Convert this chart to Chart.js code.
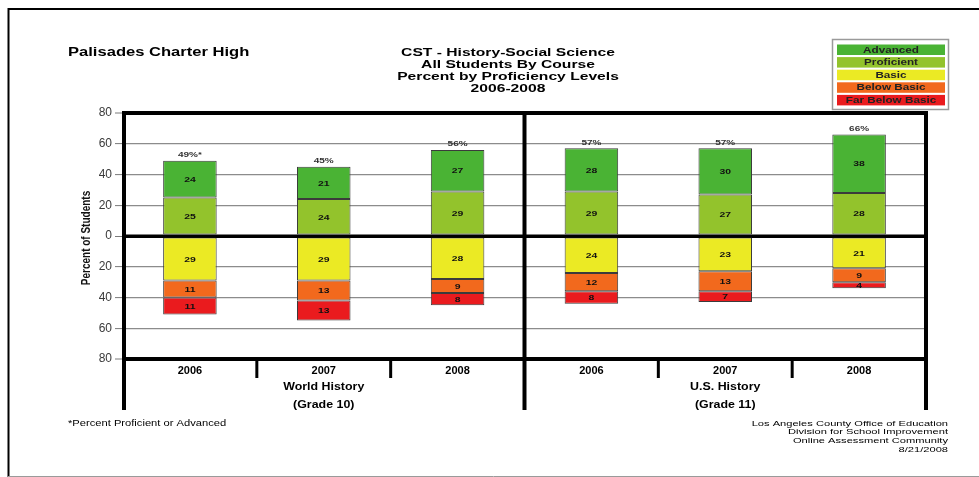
<!DOCTYPE html>
<html>
<head>
<meta charset="utf-8">
<script src="https://cdn.jsdelivr.net/npm/chart.js@4.4.1/dist/chart.umd.min.js"></script>
<style>
  html, body { margin: 0; padding: 0; background: #fff; }
  #wrap { width: 979px; height: 477px; position: relative; }
  canvas { display: block; }
</style>
</head>
<body>
<div id="wrap"><canvas id="chart" width="979" height="477"></canvas></div>
<script>
// CST History-Social Science, percent of students per proficiency level
const years = ['2006', '2007', '2008', '2006', '2007', '2008'];
const courses = ['World History', 'U.S. History'];
const grades = ['(Grade 10)', '(Grade 11)'];
const advanced = [24, 21, 27, 28, 30, 38];
const proficient = [25, 24, 29, 29, 27, 28];
const basic = [29, 29, 28, 24, 23, 21];
const belowBasic = [11, 13, 9, 12, 13, 9];
const farBelowBasic = [11, 13, 8, 8, 7, 4];
const totalSuffix = ['%*', '%', '%', '%', '%', '%'];
const yTickValues = [-80, -60, -40, -20, 0, 20, 40, 60, 80];

const titleLines = ['CST - History-Social Science', 'All Students By Course', 'Percent by Proficiency Levels', '2006-2008'];
const schoolName = 'Palisades Charter High';
const footnote = '*Percent Proficient or Advanced';
const sourceLines = ['Los Angeles County Office of Education', 'Division for School Improvement', 'Online Assessment Community', '8/21/2008'];
const legendOrder = ['Advanced', 'Proficient', 'Basic', 'Below Basic', 'Far Below Basic'];

const COLORS = {
  'Advanced': '#4ab334',
  'Proficient': '#93c32c',
  'Basic': '#ebea24',
  'Below Basic': '#f2691d',
  'Far Below Basic': '#ea1b1e'
};
const FONT = "'Liberation Sans', Arial, Helvetica, sans-serif";
const SX = 1.24; // horizontal stretch used for the drawn text

function drawText(ctx, s, x, y, font, color, align, sx) {
  ctx.save();
  ctx.font = font;
  ctx.fillStyle = color;
  ctx.textBaseline = 'middle';
  ctx.textAlign = align || 'left';
  ctx.translate(x, y);
  ctx.scale(sx || 1, 1);
  ctx.fillText(s, 0, 0);
  ctx.restore();
}

function seg(label, values, sign) {
  return {
    label: label,
    data: values.map(v => sign * v),
    backgroundColor: COLORS[label],
    borderColor: '#3b3b3b',
    borderWidth: 1,
    borderSkipped: false,
    stack: 'levels',
    barPercentage: 0.4,
    categoryPercentage: 1.0
  };
}

const decorations = {
  id: 'decorations',
  beforeDraw(chart) {
    const ctx = chart.ctx;
    ctx.save();
    ctx.fillStyle = '#fff';
    ctx.fillRect(0, 0, chart.width, chart.height);
    // page frame
    ctx.strokeStyle = '#000';
    ctx.lineWidth = 2;
    ctx.beginPath();
    ctx.moveTo(979, 9); ctx.lineTo(8.5, 9); ctx.lineTo(8.5, 477);
    ctx.stroke();
    ctx.strokeStyle = '#9a9a9a';
    ctx.lineWidth = 1;
    ctx.beginPath();
    ctx.moveTo(8, 476.5); ctx.lineTo(979, 476.5);
    ctx.stroke();
    ctx.restore();
  },
  afterDatasetsDraw(chart) {
    const ctx = chart.ctx;
    const area = chart.chartArea;
    const y = chart.scales.y;

    // zero line sits above the bars
    ctx.save();
    ctx.strokeStyle = '#000';
    ctx.lineWidth = 3;
    ctx.beginPath();
    ctx.moveTo(area.left, y.getPixelForValue(0));
    ctx.lineTo(area.right, y.getPixelForValue(0));
    ctx.stroke();
    ctx.restore();

    // values inside each segment
    chart.data.datasets.forEach((ds, di) => {
      const meta = chart.getDatasetMeta(di);
      meta.data.forEach((bar, i) => {
        const cy = (bar.y + bar.base) / 2;
        drawText(ctx, String(Math.abs(ds.data[i])), bar.x, cy + 0.5, "bold 8px " + FONT, '#111', 'center', 1.3);
      });
    });

    // Proficient + Advanced totals above each bar
    const top = chart.getDatasetMeta(1);
    top.data.forEach((bar, i) => {
      const total = advanced[i] + proficient[i];
      drawText(ctx, total + totalSuffix[i], bar.x, bar.y - 6, "bold 8px " + FONT, '#333', 'center', 1.25);
    });
  },
  afterDraw(chart) {
    const ctx = chart.ctx;
    const area = chart.chartArea;
    const x = chart.scales.x;
    const boundary = i => (x.getPixelForValue(i - 1) + x.getPixelForValue(i)) / 2;

    ctx.save();
    ctx.strokeStyle = '#000';
    // outer and course-dividing verticals
    ctx.lineWidth = 4;
    [area.left + 1, boundary(3), area.right].forEach(px => {
      ctx.beginPath();
      ctx.moveTo(px, area.top - 2);
      ctx.lineTo(px, 410);
      ctx.stroke();
    });
    // year separators below the plot
    ctx.lineWidth = 3;
    [1, 2, 4, 5].forEach(i => {
      const px = boundary(i);
      ctx.beginPath();
      ctx.moveTo(px, area.bottom);
      ctx.lineTo(px, 378);
      ctx.stroke();
    });
    ctx.restore();

    // course group labels
    courses.forEach((c, g) => {
      const cx = x.getPixelForValue(g * 3 + 1);
      drawText(ctx, c, cx, 387.5, "bold 10px " + FONT, '#000', 'center', SX);
      drawText(ctx, grades[g], cx, 405, "bold 10px " + FONT, '#000', 'center', SX);
    });

    // y axis title
    ctx.save();
    ctx.translate(86, (area.top + area.bottom) / 2 + 2);
    ctx.rotate(-Math.PI / 2);
    ctx.scale(1, 1.3);
    ctx.font = "bold 10px 'Liberation Sans Narrow', " + FONT;
    ctx.fillStyle = '#111';
    ctx.textAlign = 'center';
    ctx.textBaseline = 'middle';
    ctx.fillText('Percent of Students', 0, 0);
    ctx.restore();

    // headings
    drawText(ctx, schoolName, 68, 53, "bold 12px " + FONT, '#000', 'left', 1.38);
    titleLines.forEach((t, i) => {
      drawText(ctx, t, 508, 53 + i * 11.9, "bold 11.5px " + FONT, '#000', 'center', 1.36);
    });

    // legend box with labels inside coloured bars
    ctx.save();
    ctx.strokeStyle = '#9a9a9a';
    ctx.lineWidth = 1.5;
    ctx.strokeRect(832.5, 39.5, 116, 70);
    legendOrder.forEach((name, i) => {
      const ds = chart.data.datasets.find(d => d.label === name);
      const ty = 44.5 + i * 12.6;
      ctx.fillStyle = ds.backgroundColor;
      ctx.fillRect(837, ty, 108, 10.5);
      drawText(ctx, name, 891, ty + 5.6, "bold 9px " + FONT, '#222', 'center', 1.3);
    });
    ctx.restore();

    // footnotes
    drawText(ctx, footnote, 68, 423.5, "9px " + FONT, '#000', 'left', SX);
    sourceLines.forEach((t, i) => {
      drawText(ctx, t, 948, 423.5 + i * 8.7, "8px " + FONT, '#000', 'right', 1.39);
    });
  }
};

new Chart(document.getElementById('chart'), {
  type: 'bar',
  data: {
    labels: years,
    datasets: [
      seg('Proficient', proficient, 1),
      seg('Advanced', advanced, 1),
      seg('Basic', basic, -1),
      seg('Below Basic', belowBasic, -1),
      seg('Far Below Basic', farBelowBasic, -1)
    ]
  },
  options: {
    responsive: false,
    animation: false,
    devicePixelRatio: 1,
    layout: { padding: { left: 74, top: 113, right: 53, bottom: 68 } },
    plugins: {
      legend: { display: false },
      title: { display: false },
      tooltip: { enabled: false }
    },
    scales: {
      x: {
        stacked: true,
        grid: { display: false, drawTicks: false },
        border: { display: false },
        ticks: {
          color: '#000',
          padding: 5,
          font: { family: FONT, size: 11, weight: 'bold' }
        },
        afterFit(scale) { scale.height = 50; }
      },
      y: {
        stacked: true,
        min: -80,
        max: 80,
        afterBuildTicks(scale) { scale.ticks = yTickValues.map(v => ({ value: v })); },
        ticks: {
          color: '#3a3a3a',
          padding: 3,
          font: { family: FONT, size: 12 },
          callback: v => String(Math.abs(v))
        },
        grid: {
          color: c => (c.tick.value === 0 || Math.abs(c.tick.value) === 80) ? '#000' : '#8c8c8c',
          lineWidth: c => c.tick.value === 0 ? 3 : (Math.abs(c.tick.value) === 80 ? 4 : 1.2),
          tickColor: '#7a7a7a',
          tickLength: 8,
          tickWidth: 1
        },
        border: { display: false },
        afterFit(scale) { scale.width = 49; }
      }
    }
  },
  plugins: [decorations]
});
</script>
</body>
</html>
